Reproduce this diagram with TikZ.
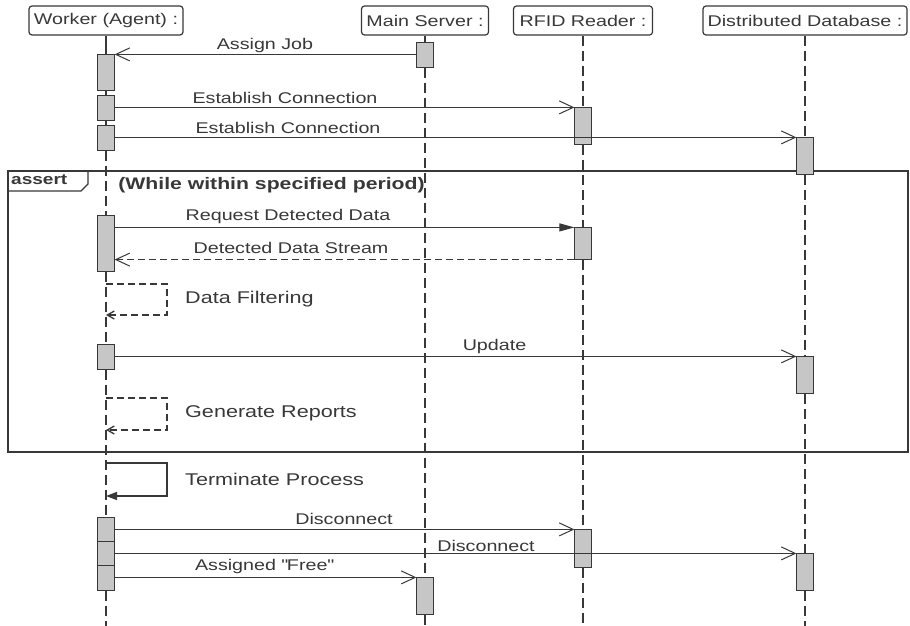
\documentclass[tikz,border=0pt]{standalone}
\usepackage{fontspec}
\setmainfont{Liberation Sans}[FakeStretch=1.27]
\usetikzlibrary{arrows.meta}
\definecolor{ink}{HTML}{383838}
\definecolor{actgray}{HTML}{C6C6C6}
\tikzset{
  headbox/.style={draw=ink, line width=1.2pt, rounded corners=3pt, minimum height=29pt,
    inner sep=0pt, text=ink, font=\fontsize{15.5}{18}\selectfont},
  life/.style={draw=ink, line width=1.4pt, dash pattern=on 10pt off 5pt},
  actbox/.style={draw=ink, fill=actgray, line width=1.2pt, minimum width=16pt, inner sep=0pt},
  msg/.style={draw=ink, line width=1pt, -{Straight Barb[length=14pt,width=13pt]}},
  callmsg/.style={draw=ink, line width=1pt, -{Triangle[length=15pt,width=8pt]}},
  replymsg/.style={msg, dash pattern=on 7pt off 4pt},
  selfnote/.style={draw=ink, line width=1.3pt, dash pattern=on 7pt off 4pt,
    -{Straight Barb[length=7pt,width=8pt]}},
  selfcall/.style={draw=ink, line width=1.3pt, -{Triangle[length=11pt,width=8pt]}},
  framebox/.style={draw=ink, line width=1.3pt},
  lbl/.style={inner sep=0pt, text=ink, font=\fontsize{15.5}{18}\selectfont},
  notetxt/.style={inner sep=0pt, text=ink, font=\fontsize{17}{20}\selectfont},
}
\begin{document}
\begin{tikzpicture}[x=1pt,y=1pt]
\useasboundingbox (0,0) rectangle (910,-626);
% participants
\node[headbox, minimum width=154pt] (worker) at (106,-20.5) {Worker (Agent) :};
\node[headbox, minimum width=127pt] (server) at (425,-20.5) {Main Server :};
\node[headbox, minimum width=139pt] (rfid) at (583,-20.5) {RFID Reader :};
\node[headbox, minimum width=204pt] (db) at (805,-20.5) {Distributed Database :};

% activations
\node[actbox, minimum height=35pt] (wa1) at (106,-72.5) {};
\node[actbox, minimum height=24pt] (wa2) at (106,-108) {};
\node[actbox, minimum height=24pt] (wa3) at (106,-138) {};
\node[actbox, minimum height=55pt] (wa4) at (106,-243.5) {};
\node[actbox, minimum height=24pt] (wa5) at (106,-357) {};
\node[actbox, minimum height=24pt] (wa6) at (106,-530) {};
\node[actbox, minimum height=24pt] (wa7) at (106,-554) {};
\node[actbox, minimum height=24pt] (wa8) at (106,-578) {};
\node[actbox, minimum height=24pt] (sa1) at (425,-55) {};
\node[actbox, minimum height=36pt] (sa2) at (425,-596) {};
\node[actbox, minimum height=36pt] (ra1) at (583,-126) {};
\node[actbox, minimum height=31pt] (ra2) at (583,-243.5) {};
\node[actbox, minimum height=37pt] (ra3) at (583,-548.5) {};
\node[actbox, minimum height=36pt] (da1) at (805,-156) {};
\node[actbox, minimum height=36pt] (da2) at (805,-375) {};
\node[actbox, minimum height=36pt] (da3) at (805,-572) {};

% lifelines
\draw[draw=ink, line width=1.4pt] (worker.south) -- (wa1.north);
\draw[draw=ink, line width=1.4pt] (wa1.south) -- (wa2.north);
\draw[draw=ink, line width=1.4pt] (wa2.south) -- (wa3.north);
\draw[life] (wa3.south) -- (wa4.north);
\draw[life] (wa4.south) -- (wa5.north);
\draw[life] (wa5.south) -- (wa6.north);
\draw[life] (wa8.south) -- ++(0,-36);
\draw[draw=ink, line width=1.4pt] (server.south) -- (sa1.north);
\draw[life] (sa1.south) -- (sa2.north);
\draw[life] (sa2.south) -- ++(0,-12);
\draw[life] (rfid.south) -- (ra1.north);
\draw[life] (ra1.south) -- (ra2.north);
\draw[life] (ra2.south) -- (ra3.north);
\draw[life] (ra3.south) -- ++(0,-59);
\draw[life] (db.south) -- (da1.north);
\draw[life] (da1.south) -- (da2.north);
\draw[life] (da2.south) -- (da3.north);
\draw[life] (da3.south) -- ++(0,-36);

% assert fragment
\draw[framebox] (8,-171) rectangle (908,-452);
\draw[framebox] (8,-191) -- (81,-191) -- (88,-184) -- (88,-171);
\node[lbl, anchor=west, font=\bfseries\fontsize{15}{18}\selectfont] (assertlbl) at (11,-180) {assert};
\node[notetxt, font=\bfseries\fontsize{16.7}{20}\selectfont] (cond) at (271.5,-185.5) {(While within specified period)};

% redraw the activations over lifelines and frame
\foreach \a in {wa1,wa2,wa3,wa4,wa5,wa6,wa7,wa8,sa1,sa2,ra1,ra2,ra3,da1,da2,da3}
  \draw[actbox] (\a.south west) rectangle (\a.north east);

% messages
\draw[msg] (sa1.west |- wa1.north) -- (wa1.north east);
\node[lbl] (m1) at (265,-45) {Assign Job};
\draw[msg] (wa2.east |- ra1.north) -- (ra1.north west);
\node[lbl] (m2) at (285,-98) {Establish Connection};
\draw[msg] (wa3.east |- da1.north) -- (da1.north west);
\node[lbl] (m3) at (288,-127.5) {Establish Connection};
\draw[callmsg] (wa4.east |- ra2.north) -- (ra2.north west);
\node[lbl] (m4) at (288,-216) {Request Detected Data};
\draw[replymsg] (ra2.south west) -- (wa4.east |- ra2.south);
\node[lbl] (m5) at (291,-247.5) {Detected Data Stream};

\coordinate (df1) at (106,-284);
\coordinate (df2) at (106,-315);
\draw[selfnote] (df1) -- (167,-284) -- (167,-315) -- (df2);
\node[notetxt, anchor=west] (m6) at (185,-299) {Data Filtering};

\draw[msg] (wa5.east |- da2.north) -- (da2.north west);
\node[lbl] (m7) at (494.5,-346) {Update};

\coordinate (gr1) at (106,-398);
\coordinate (gr2) at (106,-430);
\draw[selfnote] (gr1) -- (167,-398) -- (167,-430) -- (gr2);
\node[notetxt, anchor=west] (m8) at (185,-413) {Generate Reports};

\coordinate (tp1) at (106,-463);
\coordinate (tp2) at (106,-496);
\draw[selfcall] (tp1) -- (167,-463) -- (167,-496) -- (tp2);
\node[notetxt, anchor=west] (m9) at (185,-479) {Terminate Process};

\draw[msg] (wa6.east |- ra3.north) -- (ra3.north west);
\node[lbl] (m10) at (344,-519) {Disconnect};
\draw[msg] (wa7.east |- da3.north) -- (da3.north west);
\node[lbl] (m11) at (486,-546) {Disconnect};
\draw[msg] (wa8.east |- sa2.north) -- (sa2.north west);
\node[lbl] (m12) at (264,-566) {Assigned \textquotedbl Free\textquotedbl};
\end{tikzpicture}
\end{document}
